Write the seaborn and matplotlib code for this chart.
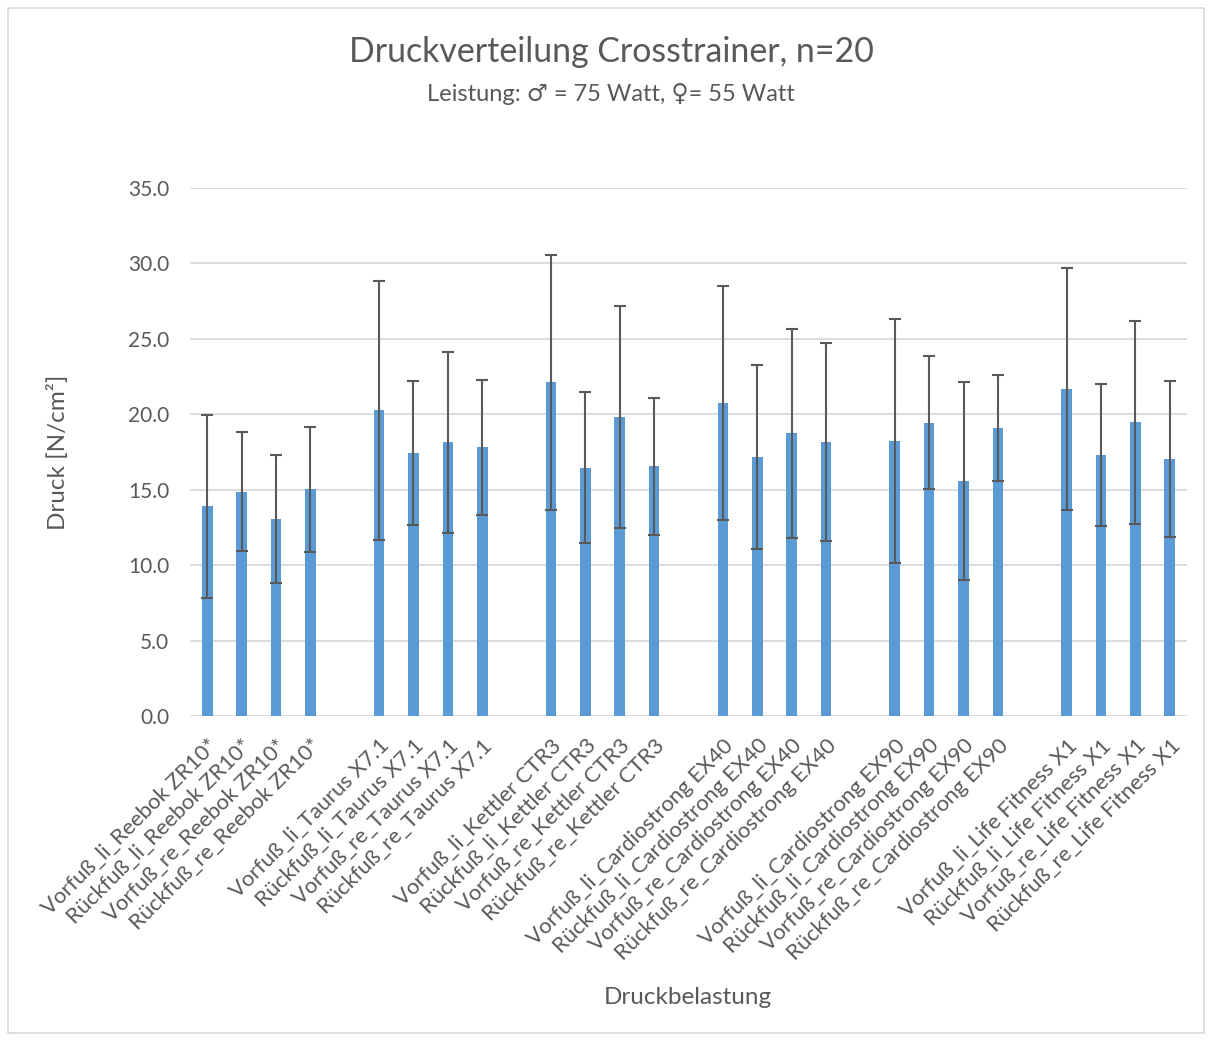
import matplotlib
matplotlib.use('Agg')
import matplotlib.pyplot as plt
import matplotlib.patches as patches
import seaborn as sns
import pandas as pd

# Geräte und Messpositionen
geraete = ["Reebok ZR10*", "Taurus X7.1", "Kettler CTR3",
           "Cardiostrong EX40", "Cardiostrong EX90", "Life Fitness X1"]
positionen = ["Vorfuß_li_", "Rückfuß_li_", "Vorfuß_re_", "Rückfuß_re_"]

# Mittelwerte und Standardabweichungen [N/cm²]
mittelwerte = [13.9, 14.87, 13.08, 15.02,
               20.26, 17.43, 18.14, 17.81,
               22.11, 16.46, 19.82, 16.55,
               20.74, 17.17, 18.73, 18.16,
               18.23, 19.44, 15.58, 19.11,
               21.68, 17.29, 19.46, 17.05]
stdabw = [6.05, 3.96, 4.24, 4.14,
          8.57, 4.78, 6.02, 4.47,
          8.43, 5.0, 7.39, 4.52,
          7.74, 6.08, 6.95, 6.56,
          8.1, 4.42, 6.56, 3.5,
          8.0, 4.7, 6.74, 5.18]

yticks = [0, 5, 10, 15, 20, 25, 30, 35]

grau = '#595959'
blau = '#5B9BD5'
gitter = '#D9D9D9'

sns.set_theme(style="white")
plt.rcParams['font.family'] = ['Lato', 'DejaVu Sans']
plt.rcParams['text.color'] = grau
plt.rcParams['axes.labelcolor'] = grau
plt.rcParams['xtick.color'] = grau
plt.rcParams['ytick.color'] = grau

labels = [p + g for g in geraete for p in positionen]
df = pd.DataFrame({'label': labels, 'druck': mittelwerte, 'sd': stdabw})

# Reihenfolge mit leeren Kategorien zwischen den Geräten
order = []
for i, g in enumerate(geraete):
    if i > 0:
        order.append(' ' * i)
    order += [p + g for p in positionen]

fig = plt.figure(figsize=(12.12, 10.41), dpi=100)
ax = fig.add_axes([190/1212, 1 - 716/1041, 997/1212, 528/1041])

sns.barplot(data=df, x='label', y='druck', order=order, color=blau,
            width=0.31, linewidth=0, saturation=1, errorbar=None, ax=ax)

xpos = [order.index(l) for l in df['label']]
ax.errorbar(xpos, df['druck'], yerr=df['sd'], fmt='none', ecolor=grau,
            elinewidth=1.5, capsize=4.2, capthick=1.5, zorder=3)

ax.set_ylim(0, 35)
ax.set_xlim(-0.5, len(order) - 0.5)
ax.set_yticks(yticks)
ax.set_yticklabels([f"{v:.1f}" for v in yticks], fontsize=15)
ax.yaxis.grid(True, color=gitter, linewidth=1.3)
ax.set_axisbelow(True)
for s in ax.spines.values():
    s.set_visible(False)
ax.tick_params(axis='both', length=0)
ax.tick_params(axis='y', pad=15)
ax.tick_params(axis='x', pad=14)
ax.set_xticks(range(len(order)))
ax.set_xticklabels(order, rotation=45, ha='right', rotation_mode='anchor',
                   fontsize=15.8)

ax.set_xlabel('')
ax.set_ylabel('')
fig.text(688/1212, 1 - 997/1041, 'Druckbelastung', ha='center', va='center',
         fontsize=17.5)
fig.text(58/1212, 1 - 452/1041, 'Druck [N/cm²]', ha='center', va='center',
         rotation=90, fontsize=17.5)

fig.text(611/1212, 1 - 52/1041, 'Druckverteilung Crosstrainer, n=20',
         ha='center', va='center', fontsize=24.4)
fig.text(611/1212, 1 - 94/1041, 'Leistung: ♂ = 75 Watt, ♀= 55 Watt',
         ha='center', va='center', fontsize=17)

fig.patches.append(patches.Rectangle((8/1212, 8/1041), 1196/1212, 1025/1041,
                                     transform=fig.transFigure, fill=False,
                                     edgecolor=gitter, linewidth=1.2))

plt.savefig('out.png', dpi=100)
plt.close()
